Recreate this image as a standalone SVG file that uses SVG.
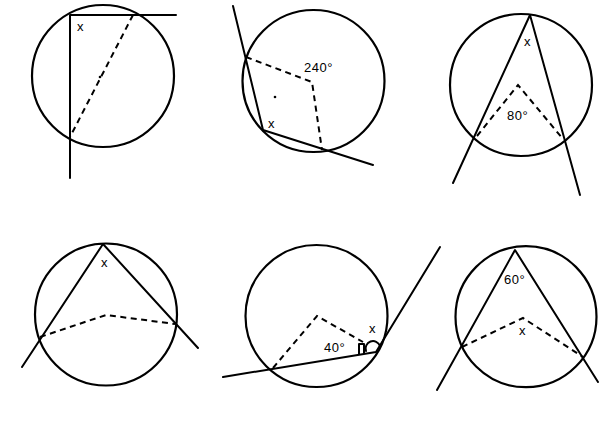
<svg xmlns="http://www.w3.org/2000/svg" width="600" height="427" viewBox="0 0 600 427">
<defs>
<style>
.s{fill:none;stroke:#000;stroke-width:2;stroke-linecap:round;stroke-linejoin:round}
.d{fill:none;stroke:#000;stroke-width:2;stroke-dasharray:6 4.5}
.c{fill:none;stroke:#000;stroke-width:2.2}
.t{font-family:"Liberation Sans",Arial,sans-serif;font-size:13px;letter-spacing:0.5px;fill:#000}
</style>
<linearGradient id="fade" x1="0" y1="0" x2="1" y2="0">
<stop offset="0" stop-color="#555"/>
<stop offset="0.5" stop-color="#888"/>
<stop offset="1" stop-color="#eee"/>
</linearGradient>
</defs>
<rect width="600" height="427" fill="#fff"/>

<g id="p1">
<circle class="c" cx="103" cy="76" r="71"/>
<path class="s" d="M70 15 H176 M70 15 V178"/>
<path class="d" d="M133 15 L70 137"/>
<circle cx="100" cy="77" r="1.3" fill="#000"/>
<text class="t" x="77" y="31">x</text>
</g>

<g id="p2">
<circle class="c" cx="313.5" cy="81" r="71"/>
<path class="s" d="M233 6 L263 130 L373 165"/>
<path class="d" d="M246 57 L312 82 L322 150"/>
<circle cx="275" cy="97" r="1.3" fill="#000"/>
<text class="t" x="304" y="72">240°</text>
<text class="t" x="268" y="128">x</text>
</g>

<g id="p3">
<circle class="c" cx="521" cy="85" r="71"/>
<path class="s" d="M453 183 L530 15 L580 195"/>
<path class="d" d="M477 136 L518 85 L563 139"/>
<text class="t" x="507" y="120">80°</text>
<text class="t" x="524" y="46">x</text>
</g>

<g id="p4">
<circle class="c" cx="106" cy="314.5" r="71"/>
<path class="s" d="M22 367 L103 244 L198 348"/>
<path class="d" d="M40 337 L106 315 L175 324"/>
<text class="t" x="101" y="267">x</text>
</g>

<g id="p5">
<circle class="c" cx="316.5" cy="316" r="71"/>
<path class="s" d="M223 377 L376 352 L440 247"/>
<path class="d" d="M273 368 L317 316 L363 342"/>
<path class="s" stroke-width="1.3" d="M359 354 V344 H364 V353"/>
<path class="s" stroke-width="1.3" d="M366 351 A7 7 0 0 1 380 346"/>
<text class="t" x="324" y="352">40°</text>
<text class="t" x="369" y="333">x</text>
</g>

<g id="p6">
<circle class="c" cx="526" cy="316.7" r="70.5"/>
<path class="s" d="M437 390 L515 250 L598 382"/>
<path class="d" d="M462 347 L523 318 L583 357"/>
<text class="t" x="504" y="284">60°</text>
<text class="t" x="519" y="335">x</text>
</g>

<line x1="3" y1="424.5" x2="455" y2="424.5" stroke="url(#fade)" stroke-width="2"/>
</svg>
